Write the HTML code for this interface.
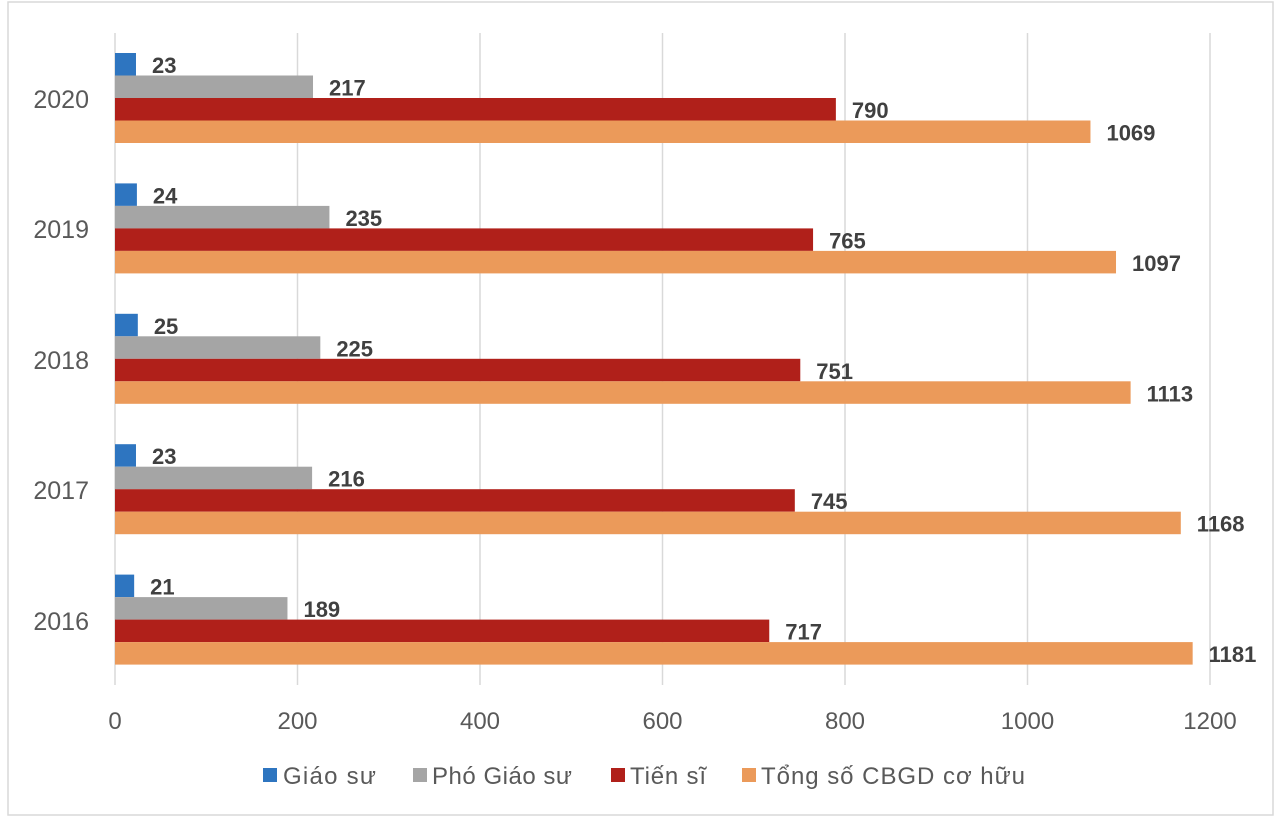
<!DOCTYPE html>
<html><head><meta charset="utf-8"><style>
html,body{margin:0;padding:0;background:#fff;}
svg{display:block;font-family:"Liberation Sans",sans-serif;}
</style></head><body>
<svg width="1276" height="824" xmlns="http://www.w3.org/2000/svg">
<rect x="8" y="2" width="1265" height="813" fill="#fff" stroke="#d9d9d9" stroke-width="1.5"/>
<g stroke="#d9d9d9" stroke-width="1.5">
<line x1="115" y1="33" x2="115" y2="685"/>
<line x1="297.5" y1="33" x2="297.5" y2="685"/>
<line x1="480" y1="33" x2="480" y2="685"/>
<line x1="662.5" y1="33" x2="662.5" y2="685"/>
<line x1="845" y1="33" x2="845" y2="685"/>
<line x1="1027.5" y1="33" x2="1027.5" y2="685"/>
<line x1="1210" y1="33" x2="1210" y2="685"/>
</g>
<g font-size="24" fill="#595959" text-anchor="middle">
<text x="115" y="729">0</text><text x="297.5" y="729">200</text><text x="480" y="729">400</text><text x="662.5" y="729">600</text><text x="845" y="729">800</text><text x="1027.5" y="729">1000</text><text x="1210" y="729">1200</text>
</g>
<g font-size="25" fill="#595959" text-anchor="end">
<text x="89" y="108">2020</text><text x="89" y="238">2019</text><text x="89" y="369">2018</text><text x="89" y="499">2017</text><text x="89" y="630">2016</text>
</g>
<g id="bars"></g>
<g font-size="22" font-weight="bold" fill="#404040" id="labels"></g>
<g font-size="24" fill="#595959">
<rect x="263" y="768" width="14" height="14" fill="#2e75c0"/><text x="283" y="784" textLength="93">Giáo sư</text>
<rect x="413" y="768" width="14" height="14" fill="#a5a5a5"/><text x="432" y="784" textLength="140">Phó Giáo sư</text>
<rect x="611" y="768" width="14" height="14" fill="#b0201a"/><text x="630" y="784" textLength="76">Tiến sĩ</text>
<rect x="742" y="768" width="14" height="14" fill="#eb9a5a"/><text x="761" y="784" textLength="264">Tổng số CBGD cơ hữu</text>
</g>
<script>
var d=[[23,217,790,1069],[24,235,765,1097],[25,225,751,1113],[23,216,745,1168],[21,189,717,1181]];
var c=["#2e75c0","#a5a5a5","#b0201a","#eb9a5a"];
var b=document.getElementById("bars"),l=document.getElementById("labels"),ns="http://www.w3.org/2000/svg";
d.forEach(function(g,i){g.forEach(function(v,j){
var y=53+i*130.4+j*22.5,w=v*0.9125;
var r=document.createElementNS(ns,"rect");r.setAttribute("x",115);r.setAttribute("y",y);r.setAttribute("width",w);r.setAttribute("height",22.5);r.setAttribute("fill",c[j]);b.appendChild(r);
var t=document.createElementNS(ns,"text");t.setAttribute("x",115+w+16);t.setAttribute("y",y+20);t.textContent=v;l.appendChild(t);
});});
</script>
</svg>
</body></html>
